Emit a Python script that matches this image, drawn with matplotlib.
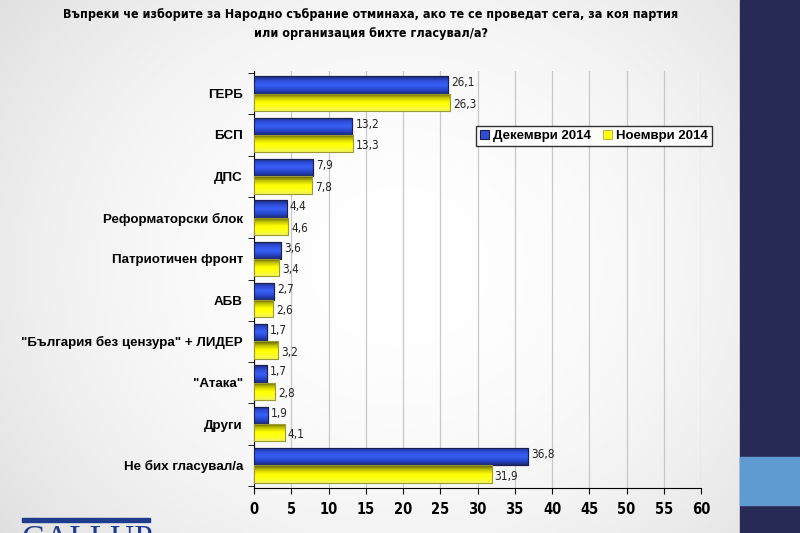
import numpy as np
import matplotlib.pyplot as plt
from matplotlib import font_manager
from matplotlib.ticker import MultipleLocator, FixedLocator

categories = ["ГЕРБ", "БСП", "ДПС", "Реформаторски блок", "Патриотичен фронт", "АБВ",
              "\"България без цензура\" + ЛИДЕР", "\"Атака\"", "Други", "Не бих гласувал/а"]
dec_2014 = [26.1, 13.2, 7.9, 4.4, 3.6, 2.7, 1.7, 1.7, 1.9, 36.8]
nov_2014 = [26.3, 13.3, 7.8, 4.6, 3.4, 2.6, 3.2, 2.8, 4.1, 31.9]
series_names = ["Декември 2014", "Ноември 2014"]
title = ("Въпреки че изборите за Народно събрание отминаха, ако те се проведат сега, за коя партия\n"
         "или организация бихте гласувал/а?")

plt.rcParams['font.family'] = ["Liberation Sans", "DejaVu Sans"]

# narrow font for title / ticks / values, if a condensed face is installed
cond = font_manager.FontProperties(family="DejaVu Sans", stretch="condensed", weight="bold")
cond_path = font_manager.findfont(cond)
have_cond = "Condensed" in cond_path
narrow = dict(family="DejaVu Sans", stretch="condensed") if have_cond else dict(family="Liberation Sans")
title_size = 9.0 if have_cond else 7.2

fig = plt.figure(figsize=(8, 5.33), dpi=100)

# slide background: light vignette + navy strip on the right
bg = fig.add_axes([0, 0, 1, 1], zorder=-10)
xx, yy = np.meshgrid(np.linspace(-1, 1, 400), np.linspace(-1, 1, 300))
r = np.clip(np.sqrt((xx * 0.8) ** 2 + (yy * 0.6) ** 2), 0, 1)
shade = 1.0 - 0.12 * r ** 2
bg.imshow(np.dstack([shade, shade, shade]), extent=[0, 1, 0, 1], aspect='auto')
bg.add_patch(plt.Rectangle((740 / 800, 0), 60 / 800, 1, color="#272a55"))
bg.add_patch(plt.Rectangle((740 / 800, 1 - 505 / 533), 60 / 800, 48 / 533, color="#5f9bd1"))
bg.add_patch(plt.Rectangle((22 / 800, 1 - 522 / 533), 128 / 800, 4 / 533, color="#1f3b8c"))
bg.text(22 / 800, 1 - 524 / 533, "GALLUP", family="Liberation Serif", fontsize=24,
        color="#1f3b8c", va="top", ha="left")
bg.set_xlim(0, 1)
bg.set_ylim(0, 1)
bg.axis("off")

fig.text(371 / 800, 1 - 24 / 533, title, ha="center", va="center", fontsize=title_size,
         fontweight="bold", linespacing=1.55, **narrow)

ax = fig.add_axes([254 / 800, 1 - 488 / 533, 447 / 800, 417 / 533])
ax.patch.set_alpha(0)

y = np.arange(len(categories))
h = 0.42

blue_grad = np.array([[0.10, 0.16, 0.45], [0.18, 0.30, 0.85], [0.22, 0.38, 0.97],
                      [0.16, 0.28, 0.82], [0.10, 0.16, 0.45]])
yel_grad = np.array([[0.35, 0.35, 0.05], [0.75, 0.75, 0.0], [1.0, 1.0, 0.0],
                     [1.0, 1.0, 0.1], [0.95, 0.95, 0.35]])


def fill_gradient(bars, cols):
    t = np.linspace(0, 4, 64)
    rgb = np.stack([np.interp(t, np.arange(5), cols[:, i]) for i in range(3)], axis=-1)
    rgb = rgb[:, None, :]
    for b in bars:
        x0, y0 = b.get_x(), b.get_y()
        w, hh = b.get_width(), b.get_height()
        im = ax.imshow(rgb, extent=[x0, x0 + w, y0 + hh, y0], aspect='auto', zorder=3,
                       interpolation='bilinear')
        im.set_clip_path(b)


b1 = ax.barh(y - h / 2, dec_2014, height=h, color="#2f4fd0", edgecolor="#1a1f50",
             linewidth=0.8, zorder=2, label=series_names[0])
b2 = ax.barh(y + h / 2, nov_2014, height=h, color="#ffff00", edgecolor="#9a9a30",
             linewidth=0.5, zorder=2, label=series_names[1])
fill_gradient(b1, blue_grad)
fill_gradient(b2, yel_grad)
for b in list(b1) + list(b2):
    ax.add_patch(plt.Rectangle((b.get_x(), b.get_y()), b.get_width(), b.get_height(),
                               fill=False, edgecolor=b.get_edgecolor(), linewidth=0.8, zorder=4))

for i in range(len(categories)):
    ax.text(dec_2014[i] + 0.4, y[i] - h / 2 - 0.05, f"{dec_2014[i]:.1f}".replace(".", ","),
            va="center", ha="left", fontsize=8.5, color="#222222", zorder=5, **narrow)
    ax.text(nov_2014[i] + 0.4, y[i] + h / 2 + 0.05, f"{nov_2014[i]:.1f}".replace(".", ","),
            va="center", ha="left", fontsize=8.5, color="#222222", zorder=5, **narrow)

ax.set_xlim(0, 60)
ax.set_ylim(len(categories) - 0.45, -0.55)
ax.xaxis.set_major_locator(MultipleLocator(5))
ax.grid(axis="x", color="#c8c8c8", linewidth=0.9, zorder=0)
ax.set_axisbelow(True)

ax.set_yticks(y)
ax.set_yticklabels(categories, fontsize=9.6, fontweight="bold")
ax.yaxis.set_minor_locator(FixedLocator(np.arange(-0.5, len(categories), 1.0)))
ax.tick_params(axis="y", which="major", length=0, pad=8)
ax.tick_params(axis="y", which="minor", length=4, color="black")
ax.tick_params(axis="x", length=4, color="black", pad=6)
for lab in ax.get_xticklabels():
    lab.set_fontweight("bold")
    lab.set_fontsize(10.5 if have_cond else 9.5)
    lab.set_family(narrow["family"])
    if have_cond:
        lab.set_stretch("condensed")

for s in ["top", "right"]:
    ax.spines[s].set_visible(False)
ax.spines["left"].set_color("black")
ax.spines["bottom"].set_color("black")

leg = ax.legend(loc="upper left", bbox_to_anchor=(476 / 800, 1 - 126 / 533),
                bbox_transform=fig.transFigure, ncol=2, frameon=True, fancybox=False,
                prop={"weight": "bold", "size": 9.5}, handlelength=0.7,
                handleheight=0.7, handletextpad=0.3, columnspacing=0.9, borderpad=0.3,
                borderaxespad=0)
leg.get_frame().set_edgecolor("black")
leg.get_frame().set_linewidth(1.0)
leg.get_frame().set_facecolor("white")

fig.savefig("out.png", dpi=100)
